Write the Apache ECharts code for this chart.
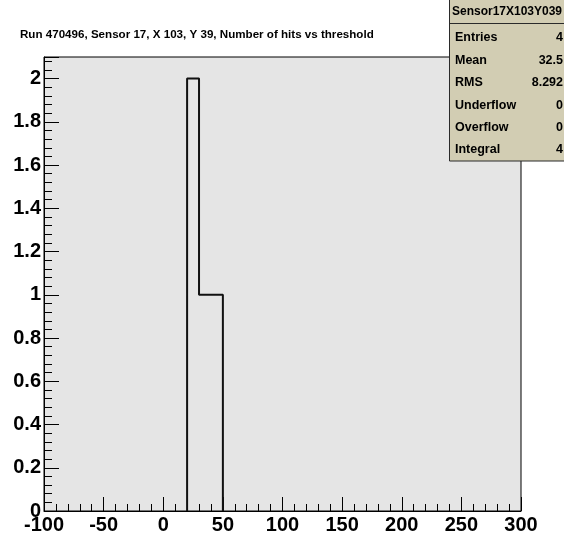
<!DOCTYPE html>
<html>
<head>
<meta charset="utf-8">
<script src="https://cdn.jsdelivr.net/npm/echarts@6/dist/echarts.min.js"></script>
<style>
  html, body { margin: 0; padding: 0; background: #ffffff; }
  #chart { width: 564px; height: 538px; }
</style>
</head>
<body>
<div id="chart"></div>
<script>
// Histogram: number of hits vs threshold (bin edges and counts)
const binEdges = [20, 30, 40, 50];
const binCounts = [2, 1, 1];

// Axis ranges and ticks
const xRange = [-100, 300];
const xInterval = 50;
const yRange = [0, 2.1];
const yInterval = 0.2;

const titleText = 'Run 470496, Sensor 17, X 103, Y 39, Number of hits vs threshold';

// Statistics box
const statsName = 'Sensor17X103Y039';
const statLabels = ['Entries', 'Mean', 'RMS', 'Underflow', 'Overflow', 'Integral'];
const statValues = ['4', '32.5', '8.292', '0', '0', '4'];

// Build the step outline of the histogram from the bins
function outline(edges, counts) {
  const pts = [];
  let prev = 0;
  for (let i = 0; i < counts.length; i++) {
    pts.push([edges[i], prev]);
    pts.push([edges[i], counts[i]]);
    prev = counts[i];
  }
  pts.push([edges[counts.length], prev]);
  pts.push([edges[counts.length], 0]);
  return pts;
}

const FONT = '"Liberation Sans", Arial, Helvetica, sans-serif';

const chart = echarts.init(document.getElementById('chart'), null, { renderer: 'canvas' });

const statsGraphics = [];
const boxX = 449, boxY = 0, boxW = 130, boxH = 162;
statsGraphics.push({
  type: 'rect',
  shape: { x: boxX + 0.5, y: boxY - 1, width: boxW, height: boxH },
  style: { fill: '#d2cdb3', stroke: '#2a2a2a', lineWidth: 1 },
  z: 100
});
statsGraphics.push({
  type: 'line',
  shape: { x1: boxX, y1: 23.5, x2: 564, y2: 23.5 },
  style: { stroke: '#2a2a2a', lineWidth: 1 },
  z: 101
});
statsGraphics.push({
  type: 'text',
  x: 507, y: 12,
  style: { text: statsName, font: 'bold 12px ' + FONT, fill: '#000', align: 'center', verticalAlign: 'middle' },
  z: 102
});
statLabels.forEach((lab, i) => {
  const y = 38 + i * 22.4;
  statsGraphics.push({
    type: 'text', x: 455, y: y,
    style: { text: lab, font: 'bold 12.5px ' + FONT, fill: '#000', align: 'left', verticalAlign: 'middle' },
    z: 102
  });
  statsGraphics.push({
    type: 'text', x: 563, y: y,
    style: { text: statValues[i], font: 'bold 12.5px ' + FONT, fill: '#000', align: 'right', verticalAlign: 'middle' },
    z: 102
  });
});

const option = {
  animation: false,
  backgroundColor: '#ffffff',
  title: {
    text: titleText,
    left: 15,
    top: 24,
    textStyle: { fontFamily: FONT, fontWeight: 'bold', fontSize: 11.6, color: '#000' }
  },
  grid: {
    left: 44, right: 43, top: 57, bottom: 27,
    show: true,
    backgroundColor: '#e5e5e5',
    borderColor: '#000',
    borderWidth: 1
  },
  xAxis: {
    type: 'value',
    min: xRange[0], max: xRange[1], interval: xInterval,
    axisLine: { show: true, onZero: false, lineStyle: { color: '#000', width: 1 } },
    axisTick: { show: true, inside: true, length: 14, lineStyle: { color: '#000' } },
    minorTick: { show: true, splitNumber: 5, length: 7, lineStyle: { color: '#000' } },
    splitLine: { show: false },
    axisLabel: {
      fontFamily: FONT, fontWeight: 'bold', fontSize: 20, color: '#000', margin: 4
    }
  },
  yAxis: {
    type: 'value',
    min: yRange[0], max: yRange[1], interval: yInterval,
    axisLine: { show: true, onZero: false, lineStyle: { color: '#000', width: 1 } },
    axisTick: { show: true, inside: true, length: 15, lineStyle: { color: '#000' } },
    minorTick: { show: true, splitNumber: 5, length: 8, lineStyle: { color: '#000' } },
    splitLine: { show: false },
    axisLabel: {
      fontFamily: FONT, fontWeight: 'bold', fontSize: 20, color: '#000', margin: 3,
      showMaxLabel: false,
      formatter: function (v) {
        const r = Math.round(v / yInterval) * yInterval;
        if (Math.abs(v - r) > 1e-6) return '';
        return String(parseFloat(v.toFixed(1)));
      }
    }
  },
  series: [{
    type: 'line',
    data: outline(binEdges, binCounts),
    symbol: 'none',
    lineStyle: { color: '#111', width: 2 },
    z: 5
  }],
  graphic: statsGraphics
};

chart.setOption(option);
</script>
</body>
</html>
